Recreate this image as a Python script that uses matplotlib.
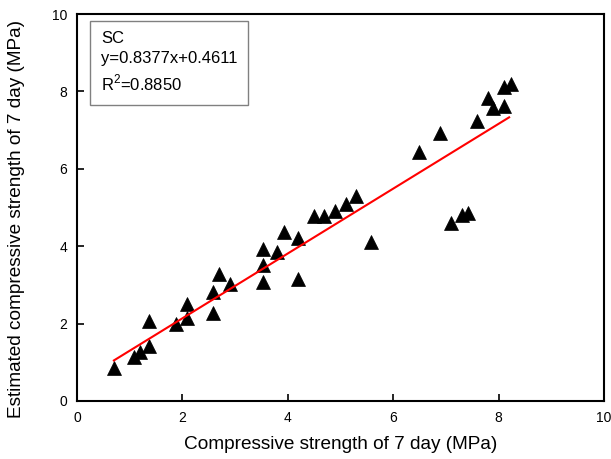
import matplotlib
matplotlib.use("Agg")
import matplotlib.pyplot as plt
import numpy as np

plt.rcParams['font.family'] = ['Liberation Sans', 'DejaVu Sans']
plt.rcParams['mathtext.fontset'] = 'custom'
plt.rcParams['mathtext.rm'] = 'Liberation Sans'

measured = [0.70, 1.08, 1.20, 1.37, 1.37, 1.88, 2.09, 2.09, 2.58, 2.58, 2.69, 2.90,
            3.53, 3.53, 3.53, 3.80, 3.93, 4.19, 4.19, 4.50, 4.69, 4.90, 5.10, 5.29,
            5.58, 6.49, 6.89, 7.10, 7.30, 7.42, 7.59, 7.80, 7.89, 8.10, 8.10, 8.24]
estimated = [0.85, 1.14, 1.27, 1.42, 2.07, 1.99, 2.14, 2.50, 2.27, 2.82, 3.28, 3.02,
             3.07, 3.51, 3.93, 3.85, 4.37, 4.21, 3.15, 4.78, 4.78, 4.91, 5.09, 5.30,
             4.11, 6.43, 6.92, 4.60, 4.80, 4.86, 7.24, 7.83, 7.57, 7.62, 8.11, 8.19]
slope = 0.8377
intercept = 0.4611
fit_range = [0.7, 8.2]
label_name = "SC"
r2 = 0.8850
ticks = [0, 2, 4, 6, 8, 10]

fig = plt.figure(figsize=(6.11, 4.59), dpi=100)
ax = fig.add_axes([0.126, 0.1264, 0.8625, 0.843])

ax.plot(measured, estimated, linestyle='none', marker='^', markersize=10,
        color='black', markeredgewidth=0.5)
fx = np.array(fit_range)
ax.plot(fx, slope * fx + intercept, color='red', linewidth=1.5)

ax.set_xlim(0, 10)
ax.set_ylim(0, 10)
ax.set_xticks(ticks)
ax.set_yticks(ticks)
ax.tick_params(direction='in', length=5, width=1.2, labelsize=10, pad=7)
for s in ax.spines.values():
    s.set_linewidth(1.5)

ax.set_xlabel("Compressive strength of 7 day (MPa)", fontsize=13.7, labelpad=8)
ax.set_ylabel("Estimated compressive strength of 7 day (MPa)", fontsize=13.7)
ax.yaxis.set_label_coords(-0.098, 0.47)

txt = f"{label_name}\ny={slope:.4f}x+{intercept:.4f}\nR$^{{2}}$=${r2:.4f}$".replace("$" + f"{r2:.4f}" + "$", f"{r2:.4f}")
ax.text(0.0455, 0.955, txt, transform=ax.transAxes, fontsize=12, va='top', ha='left',
        linespacing=1.4,
        bbox=dict(boxstyle='square,pad=0.65', facecolor='white', edgecolor='#808080', linewidth=1))

fig.savefig("out.png", dpi=100)
